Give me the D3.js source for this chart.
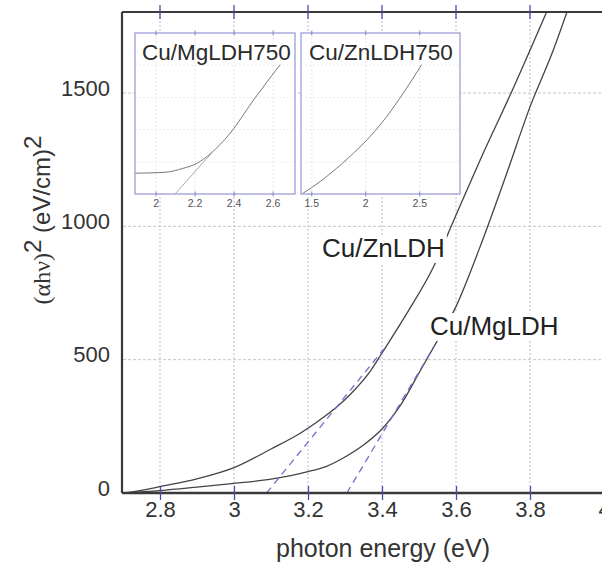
<!DOCTYPE html>
<html>
<head>
<meta charset="utf-8">
<script src="https://cdn.jsdelivr.net/npm/d3@7"></script>
<style>
  html, body { margin: 0; padding: 0; background: #fff; }
  svg { display: block; }
  text { font-family: "Liberation Sans", Arial, sans-serif; fill: #333; }
</style>
</head>
<body>
<svg id="chart" width="602" height="565"></svg>
<script>
// Tauc plot: (αhν)² against photon energy for two Cu-loaded LDH samples
const energyZn = [2.70, 2.75, 2.80, 2.90, 3.00, 3.10, 3.18, 3.23, 3.28, 3.32, 3.37, 3.40, 3.47, 3.54, 3.59, 3.665, 3.755, 3.845];
const taucZn   = [0, 10, 24, 53, 95, 165, 225, 272, 325, 378, 460, 525, 680, 850, 1010, 1248, 1519, 1804];

const energyMg = [2.70, 2.80, 2.90, 3.00, 3.10, 3.20, 3.25, 3.30, 3.35, 3.40, 3.455, 3.50, 3.54, 3.60, 3.665, 3.737, 3.80, 3.863, 3.90];
const taucMg   = [0, 9, 22, 36, 52, 80, 100, 135, 180, 240, 340, 450, 548, 699, 923, 1198, 1448, 1661, 1804];

// linear extrapolations to the energy axis (band gap estimates)
const fitZnEnergy = [3.088, 3.405];
const fitZnTauc   = [0, 540];
const fitMgEnergy = [3.305, 3.54];
const fitMgTauc   = [0, 548];

// main axes ticks
const xTicks = [2.8, 3.0, 3.2, 3.4, 3.6, 3.8, 4.0];
const xTickLabels = ["2.8", "3", "3.2", "3.4", "3.6", "3.8", "4"];
const yTicks = [0, 500, 1000, 1500];
const yTickLabels = ["0", "500", "1000", "1500"];

// calcined samples (750 °C), relative units
const energyMg750 = [1.892, 2.046, 2.14, 2.209, 2.277, 2.38, 2.50, 2.636];
const taucMg750   = [0.129, 0.135, 0.16, 0.19, 0.249, 0.378, 0.585, 0.803];
const fitMg750Energy = [2.097, 2.285];
const fitMg750Tauc   = [0, 0.255];
const inset1Ticks = [2.0, 2.2, 2.4, 2.6];
const inset1TickLabels = ["2", "2.2", "2.4", "2.6"];

const energyZn750 = [1.417, 1.577, 1.731, 1.885, 2.04, 2.194, 2.348, 2.518];
const taucZn750   = [0.004, 0.077, 0.16, 0.253, 0.357, 0.481, 0.627, 0.803];
const inset2Ticks = [1.5, 2.0, 2.5];
const inset2TickLabels = ["1.5", "2", "2.5"];

const svg = d3.select("#chart");
const plotLeft = 123, plotRight = 604, plotTop = 13, plotBottom = 493;

const x = d3.scaleLinear().domain([2.7, 4.0]).range([plotLeft, plotRight]);
const y = d3.scaleLinear().domain([0, 1800]).range([plotBottom, plotTop]);

const tickBlue = "#4b4ba6";
const frameCol = "#3a3a3a";

svg.append("defs").append("clipPath").attr("id", "plotClip")
  .append("rect").attr("x", plotLeft).attr("y", plotTop)
  .attr("width", 602 - plotLeft).attr("height", plotBottom - plotTop);

// grid
const grid = svg.append("g");
grid.selectAll("line.v").data(xTicks).join("line")
  .attr("x1", d => x(d)).attr("x2", d => x(d))
  .attr("y1", plotTop).attr("y2", plotBottom)
  .attr("stroke", "#b9b9dc").attr("stroke-width", 1).attr("stroke-dasharray", "2,2");
grid.selectAll("line.h").data(yTicks.slice(1)).join("line")
  .attr("x1", plotLeft).attr("x2", 602)
  .attr("y1", d => y(d)).attr("y2", d => y(d))
  .attr("stroke", "#c4c4c4").attr("stroke-width", 1).attr("stroke-dasharray", "3,2");

// curves
const plot = svg.append("g").attr("clip-path", "url(#plotClip)");
const line = d3.line().x(d => x(d[0])).y(d => y(d[1])).curve(d3.curveMonotoneX);
plot.append("path").datum(d3.zip(energyZn, taucZn)).attr("d", line)
  .attr("fill", "none").attr("stroke", "#444").attr("stroke-width", 1.3);
plot.append("path").datum(d3.zip(energyMg, taucMg)).attr("d", line)
  .attr("fill", "none").attr("stroke", "#444").attr("stroke-width", 1.3);

const straight = d3.line().x(d => x(d[0])).y(d => y(d[1]));
[[fitZnEnergy, fitZnTauc], [fitMgEnergy, fitMgTauc]].forEach(([e, t]) => {
  plot.append("path").datum(d3.zip(e, t)).attr("d", straight)
    .attr("fill", "none").attr("stroke", "#6f6fd0").attr("stroke-width", 1.3)
    .attr("stroke-dasharray", "7,5");
});

// curve labels with white backing
function curveLabel(txt, lx, ly) {
  const g = svg.append("g");
  const t = g.append("text").attr("x", lx).attr("y", ly)
    .attr("font-size", 26).style("fill", "#222").text(txt);
  const b = t.node().getBBox();
  g.insert("rect", "text").attr("x", b.x - 2).attr("y", b.y + 2)
    .attr("width", b.width + 4).attr("height", b.height - 2).attr("fill", "#fff");
}
curveLabel("Cu/ZnLDH", 322, 257);
curveLabel("Cu/MgLDH", 430, 335);

// insets
function inset(opts) {
  const g = svg.append("g");
  const xi = d3.scaleLinear().domain(opts.domain).range([opts.x0, opts.x1]);
  const yi = d3.scaleLinear().domain([0, 1]).range([opts.y1, opts.y0]);
  g.append("rect").attr("x", opts.x0).attr("y", opts.y0)
    .attr("width", opts.x1 - opts.x0).attr("height", opts.y1 - opts.y0)
    .attr("fill", "#fff");
  g.selectAll("line.gv").data(opts.ticks).join("line")
    .attr("x1", d => xi(d)).attr("x2", d => xi(d)).attr("y1", opts.y0).attr("y2", opts.y1)
    .attr("stroke", "#e4e4ee").attr("stroke-width", 1).attr("stroke-dasharray", "2,2");
  g.selectAll("line.gh").data([0.2, 0.4, 0.6, 0.8]).join("line")
    .attr("x1", opts.x0).attr("x2", opts.x1).attr("y1", d => yi(d)).attr("y2", d => yi(d))
    .attr("stroke", "#ececec").attr("stroke-width", 1).attr("stroke-dasharray", "2,2");
  const li = d3.line().x(d => xi(d[0])).y(d => yi(d[1])).curve(d3.curveMonotoneX);
  g.append("path").datum(d3.zip(opts.energy, opts.tauc)).attr("d", li)
    .attr("fill", "none").attr("stroke", "#7a7a7a").attr("stroke-width", 1);
  if (opts.fitE) {
    g.append("path").datum(d3.zip(opts.fitE, opts.fitT))
      .attr("d", d3.line().x(d => xi(d[0])).y(d => yi(d[1])))
      .attr("fill", "none").attr("stroke", "#aaaaaa").attr("stroke-width", 1);
  }
  g.append("rect").attr("x", opts.x0).attr("y", opts.y0)
    .attr("width", opts.x1 - opts.x0).attr("height", opts.y1 - opts.y0)
    .attr("fill", "none").attr("stroke", "#9d9dd9").attr("stroke-width", 1.3);
  [opts.y0, opts.y1].forEach(yy => {
    g.append("g").selectAll("line").data(opts.ticks).join("line")
      .attr("x1", d => xi(d)).attr("x2", d => xi(d)).attr("y1", yy - 2.5).attr("y2", yy + 2.5)
      .attr("stroke", "#8484c8").attr("stroke-width", 1);
  });
  g.append("g").selectAll("text").data(opts.ticks).join("text")
    .attr("x", d => xi(d)).attr("y", opts.y1 + 13)
    .attr("text-anchor", "middle").attr("font-size", 10.5).style("fill", "#555")
    .text((d, i) => opts.labels[i]);
  g.append("text").attr("x", opts.tx).attr("y", opts.ty)
    .attr("font-size", 22.5).style("fill", "#2a2a2a").text(opts.title);
}
inset({ x0: 135, x1: 295, y0: 33, y1: 194, domain: [1.892, 2.712],
  energy: energyMg750, tauc: taucMg750, fitE: fitMg750Energy, fitT: fitMg750Tauc,
  ticks: inset1Ticks, labels: inset1TickLabels, title: "Cu/MgLDH750", tx: 142, ty: 60 });
inset({ x0: 301, x1: 460, y0: 33, y1: 194, domain: [1.40, 2.873],
  energy: energyZn750, tauc: taucZn750,
  ticks: inset2Ticks, labels: inset2TickLabels, title: "Cu/ZnLDH750", tx: 309, ty: 60 });

// frame
svg.append("line").attr("x1", plotLeft - 1).attr("x2", 602).attr("y1", 12).attr("y2", 12)
  .attr("stroke", frameCol).attr("stroke-width", 2);

// x axis
const xAxis = svg.append("g").attr("transform", `translate(0,${plotBottom})`)
  .call(d3.axisBottom(x).tickValues(xTicks).tickSize(7).tickFormat((d, i) => xTickLabels[i]));
xAxis.select(".domain").attr("d", `M${plotLeft - 1},0H602`).attr("stroke", frameCol).attr("stroke-width", 2.5);
xAxis.selectAll(".tick line").attr("y1", -7).attr("stroke", tickBlue).attr("stroke-width", 1.3);
xAxis.selectAll(".tick text").attr("y", 8).attr("font-size", 22).attr("font-family", null)
  .style("fill", "#333");

// top ticks
svg.append("g").selectAll("line").data(xTicks).join("line")
  .attr("x1", d => x(d)).attr("x2", d => x(d)).attr("y1", 5).attr("y2", 19)
  .attr("stroke", tickBlue).attr("stroke-width", 1.3);

// y axis
const yAxis = svg.append("g").attr("transform", `translate(${plotLeft - 1},0)`)
  .call(d3.axisLeft(y).tickValues(yTicks).tickSize(0).tickPadding(12)
    .tickFormat((d, i) => yTickLabels[i]));
yAxis.select(".domain").attr("d", `M0,12V${plotBottom}`).attr("stroke", frameCol).attr("stroke-width", 2.2);
yAxis.selectAll(".tick text").attr("font-size", 22).attr("font-family", null)
  .attr("dy", "0.1em").style("fill", "#333");

// axis titles
svg.append("text").attr("x", 383).attr("y", 557).attr("text-anchor", "middle")
  .attr("font-size", 25).style("fill", "#333").text("photon energy (eV)");

const yt = svg.append("text").attr("transform", "translate(50,220) rotate(-90)")
  .attr("text-anchor", "middle").attr("font-size", 24).style("fill", "#333");
yt.append("tspan").style("font-family", "'Liberation Serif', 'DejaVu Serif', serif").text("(αhν)");
yt.append("tspan").attr("dy", -9).text("2");
yt.append("tspan").attr("dy", 9).text(" (eV/cm)");
yt.append("tspan").attr("dy", -9).text("2");
</script>
</body>
</html>
